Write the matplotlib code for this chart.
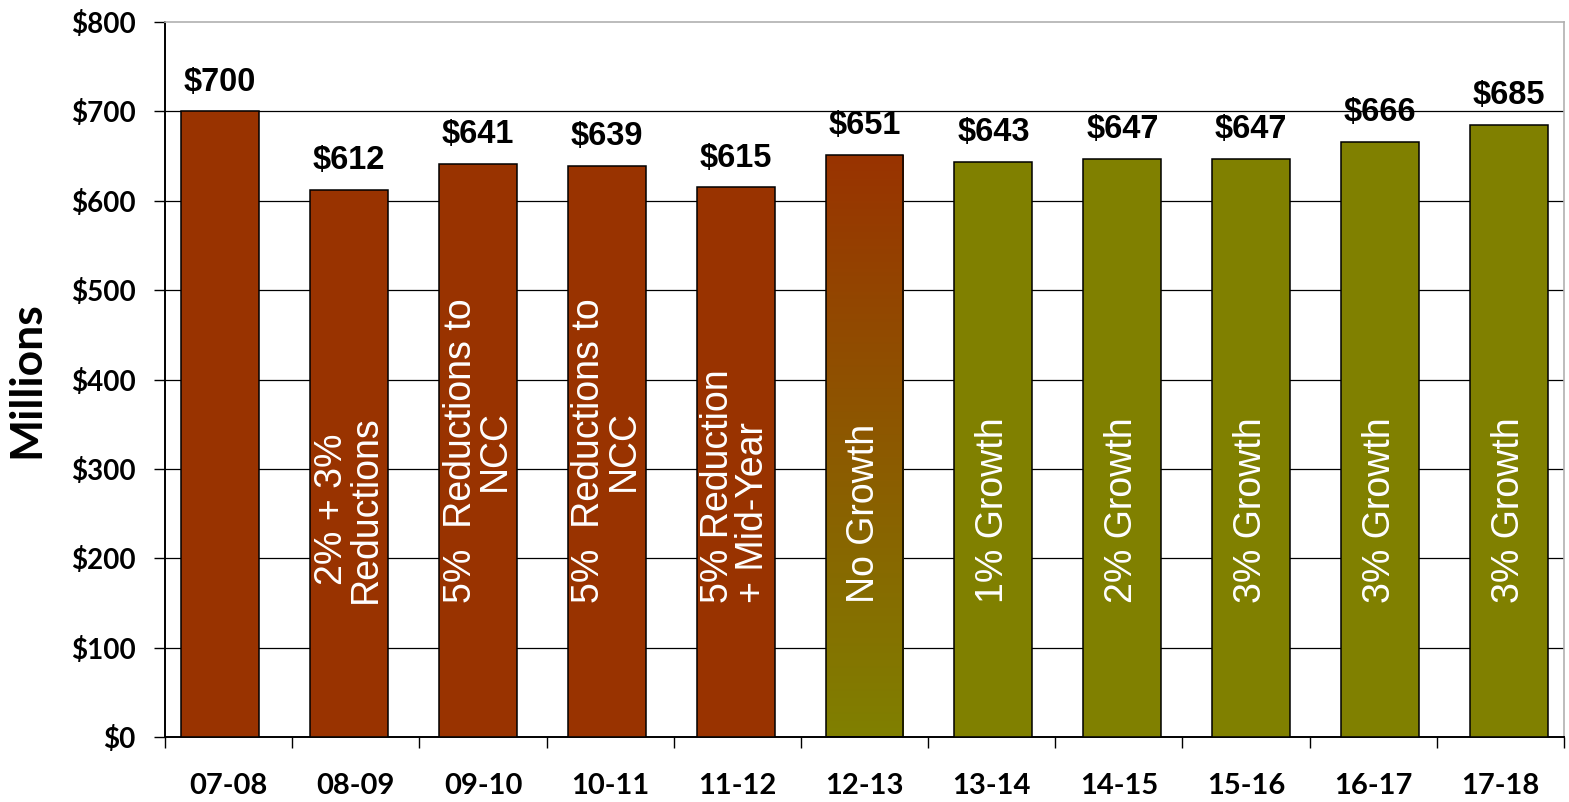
import numpy as np
import matplotlib.pyplot as plt
from matplotlib.colors import LinearSegmentedColormap

# budget by fiscal year, in millions of dollars
years = ['07-08', '08-09', '09-10', '10-11', '11-12', '12-13',
         '13-14', '14-15', '15-16', '16-17', '17-18']
budget = [700, 612, 641, 639, 615, 651, 643, 647, 647, 666, 685]
notes = ['', '2% + 3%\nReductions', '5%  Reductions to\nNCC',
         '5%  Reductions to\nNCC', '5% Reduction\n+ Mid-Year', 'No Growth',
         '1% Growth', '2% Growth', '3% Growth', '3% Growth', '3% Growth']
phase = ['cut'] * 5 + ['shift'] + ['growth'] * 5

CUT = '#993300'
GROWTH = '#808000'
fill = {'cut': CUT, 'growth': GROWTH, 'shift': 'none'}

tick_font = 'Lato'
label_font = 'Liberation Sans'

fig = plt.figure(figsize=(15.69, 8.02), dpi=100)
ax = fig.add_axes([165 / 1569, 1 - 737 / 802, (1564 - 165) / 1569, (737 - 22) / 802])

n = len(years)
x = np.arange(n)
bars = ax.bar(x, budget, width=0.605, color=[fill[p] for p in phase],
              edgecolor='black', linewidth=1.1, zorder=3)

# the transition year fades from the cut colour to the growth colour
cmap = LinearSegmentedColormap.from_list('shift', [GROWTH, CUT])
for b, p in zip(bars, phase):
    if p != 'shift':
        continue
    img = ax.imshow(np.linspace(0, 1, 256).reshape(-1, 1), cmap=cmap, origin='lower',
                    extent=[b.get_x(), b.get_x() + b.get_width(), 0, b.get_height()],
                    aspect='auto', zorder=2)
    img.set_clip_path(b)

xmin, xmax = -0.427, n - 1 + 0.427
ax.set_xlim(xmin, xmax)
ax.set_ylim(0, 800)

yt = np.arange(0, 801, 100)
for v in yt[1:-1]:
    ax.axhline(v, color='black', linewidth=0.9, zorder=1)
ax.set_yticks(yt)
ax.set_yticklabels(['$%d' % v for v in yt], fontsize=20, fontweight='bold', family=tick_font)
ax.tick_params(axis='y', length=8, width=1, pad=13)

# category slots: ticks on the boundaries, labels in the middle
edges = np.linspace(xmin, xmax, n + 1)
ax.set_xticks(edges)
ax.set_xticklabels([])
ax.set_xticks((edges[:-1] + edges[1:]) / 2, minor=True)
ax.set_xticklabels(years, minor=True, fontsize=21, fontweight='bold', family=tick_font)
ax.tick_params(axis='x', which='major', length=8, width=1)
ax.tick_params(axis='x', which='minor', length=0, pad=26)

ax.set_ylabel('Millions', fontsize=32, fontweight='bold', family=tick_font, labelpad=18)

for side in ['left', 'bottom']:
    ax.spines[side].set_linewidth(1.4)
for side in ['top', 'right']:
    ax.spines[side].set_color('#b0b0b0')
    ax.spines[side].set_linewidth(1.2)

for xi, v, note in zip(x, budget, notes):
    ax.annotate('$%d' % v, (xi, v), xytext=(0, 15), textcoords='offset points',
                ha='center', va='baseline', fontsize=23.5, fontweight='bold',
                family=label_font, zorder=4)
    if note:
        align = 'left' if 'Mid-Year' in note else 'center'
        ax.text(xi, 150, note, rotation=90, ha='center', va='bottom', color='white',
                fontsize=27, family=label_font, multialignment=align,
                linespacing=0.95, zorder=4)

fig.savefig('out.png', dpi=100)
